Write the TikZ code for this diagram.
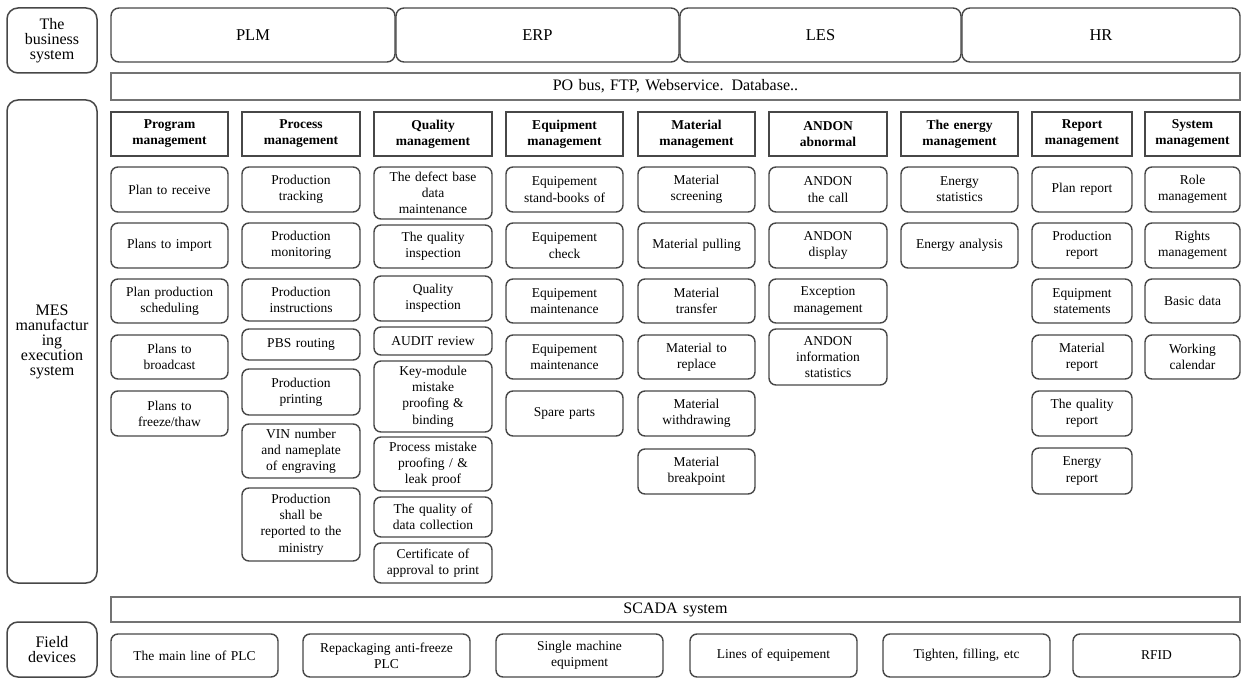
\documentclass[tikz,border=0pt]{standalone}
\usepackage{fontspec}
\setmainfont{Liberation Serif}
\begin{document}
\begin{tikzpicture}[x=1pt,y=-1pt,
  base/.style={align=center,inner sep=0pt,text=black},
  item/.style={base,draw=black!72,line width=1.4pt,rounded corners=7pt,fill=white,font=\fontsize{13.5}{16.2}\selectfont},
  head/.style={base,draw=black!72,line width=1.6pt,fill=white,font=\fontsize{13.5}{16}\selectfont\bfseries},
  top/.style={base,draw=black!72,line width=1.4pt,rounded corners=8pt,fill=white,font=\fontsize{16.5}{18}\selectfont},
  side/.style={base,draw=black!72,line width=1.5pt,rounded corners=11pt,fill=white,font=\fontsize{16}{15}\selectfont},
  bar/.style={base,draw=black!55,line width=2pt,fill=white,font=\fontsize{16}{18}\selectfont},
  field/.style={base,draw=black!72,line width=1.4pt,rounded corners=7pt,fill=white,font=\fontsize{13.5}{16}\selectfont}]
\newcommand\bx[7]{%
  \pgfmathsetmacro\bxw{#5-#3}\pgfmathsetmacro\bxh{#6-#4}%
  \pgfmathsetmacro\bxt{#5-#3-6}%
  \pgfmathsetmacro\bxx{(#3+#5)/2}\pgfmathsetmacro\bxy{(#4+#6)/2}%
  \node[#1,minimum width=\bxw pt,minimum height=\bxh pt,text width=\bxt pt] (#2) at (\bxx,\bxy) {#7};}
\useasboundingbox (0,0) rectangle (1242,679);
% business layer
\bx{side}{bus}{7}{8}{97}{73}{The\\business\\system}
\bx{top}{plm}{111}{8}{395}{62}{PLM}
\bx{top}{erp}{396}{8}{679}{62}{ERP}
\bx{top}{les}{680}{8}{961}{62}{LES}
\bx{top}{hr}{962}{8}{1240}{62}{HR}
\bx{bar}{po}{111}{73}{1240}{100}{PO bus, FTP, Webservice. Database..}
% MES
\bx{side}{mes}{7}{100}{97}{583}{MES\\manufactur\\ing\\execution\\system}
% headers
\bx{head}{h1}{111}{112}{228}{156}{Program\\management}
\bx{head}{h2}{242}{112}{360}{156}{Process\\management}
\bx{head}{h3}{374}{112}{492}{156}{Quality\\management}
\bx{head}{h4}{506}{112}{623}{156}{Equipment\\management}
\bx{head}{h5}{638}{112}{755}{156}{Material\\management}
\bx{head}{h6}{769}{112}{887}{156}{ANDON\\abnormal}
\bx{head}{h7}{901}{112}{1018}{156}{The energy\\management}
\bx{head}{h8}{1032}{112}{1132}{156}{Report\\management}
\bx{head}{h9}{1145}{112}{1240}{156}{System\\management}
% column 1
\bx{item}{a1}{111}{167}{228}{212}{Plan to receive}
\bx{item}{a2}{111}{223}{228}{268}{Plans to import}
\bx{item}{a3}{111}{279}{228}{323}{Plan production\\scheduling}
\bx{item}{a4}{111}{335}{228}{379}{Plans to\\broadcast}
\bx{item}{a5}{111}{391}{228}{436}{Plans to\\freeze/thaw}
% column 2
\bx{item}{b1}{242}{167}{360}{212}{Production\\tracking}
\bx{item}{b2}{242}{223}{360}{268}{Production\\monitoring}
\bx{item}{b3}{242}{279}{360}{321}{Production\\instructions}
\bx{item}{b4}{242}{329}{360}{360}{PBS routing}
\bx{item}{b5}{242}{369}{360}{415}{Production\\printing}
\bx{item}{b6}{242}{424}{360}{478}{VIN number\\and nameplate\\of engraving}
\bx{item}{b7}{242}{488}{360}{561}{Production\\shall be\\reported to the\\ministry}
% column 3
\bx{item}{c1}{374}{167}{492}{219}{The defect base\\data\\maintenance}
\bx{item}{c2}{374}{225}{492}{268}{The quality\\inspection}
\bx{item}{c3}{374}{276}{492}{321}{Quality\\inspection}
\bx{item}{c4}{374}{327}{492}{355}{AUDIT review}
\bx{item}{c5}{374}{361}{492}{432}{Key-module\\mistake\\proofing \&\\binding}
\bx{item}{c6}{374}{437}{492}{491}{Process mistake\\proofing / \&\\leak proof}
\bx{item}{c7}{374}{497}{492}{537}{The quality of\\data collection}
\bx{item}{c8}{374}{543}{492}{583}{Certificate of\\approval to print}
% column 4
\bx{item}{d1}{506}{167}{623}{212}{Equipement\\stand-books of}
\bx{item}{d2}{506}{223}{623}{268}{Equipement\\check}
\bx{item}{d3}{506}{279}{623}{323}{Equipement\\maintenance}
\bx{item}{d4}{506}{335}{623}{379}{Equipement\\maintenance}
\bx{item}{d5}{506}{391}{623}{436}{Spare parts}
% column 5
\bx{item}{e1}{638}{167}{755}{212}{Material\\screening}
\bx{item}{e2}{638}{223}{755}{268}{Material pulling}
\bx{item}{e3}{638}{279}{755}{323}{Material\\transfer}
\bx{item}{e4}{638}{335}{755}{379}{Material to\\replace}
\bx{item}{e5}{638}{391}{755}{436}{Material\\withdrawing}
\bx{item}{e6}{638}{449}{755}{494}{Material\\breakpoint}
% column 6
\bx{item}{f1}{769}{167}{887}{212}{ANDON\\the call}
\bx{item}{f2}{769}{223}{887}{268}{ANDON\\display}
\bx{item}{f3}{769}{279}{887}{323}{Exception\\management}
\bx{item}{f4}{769}{329}{887}{385}{ANDON\\information\\statistics}
% column 7
\bx{item}{g1}{901}{167}{1018}{212}{Energy\\statistics}
\bx{item}{g2}{901}{223}{1018}{268}{Energy analysis}
% column 8
\bx{item}{r1}{1032}{167}{1132}{212}{Plan report}
\bx{item}{r2}{1032}{223}{1132}{268}{Production\\report}
\bx{item}{r3}{1032}{279}{1132}{323}{Equipment\\statements}
\bx{item}{r4}{1032}{335}{1132}{379}{Material\\report}
\bx{item}{r5}{1032}{391}{1132}{436}{The quality\\report}
\bx{item}{r6}{1032}{448}{1132}{494}{Energy\\report}
% column 9
\bx{item}{s1}{1145}{167}{1240}{212}{Role\\management}
\bx{item}{s2}{1145}{223}{1240}{268}{Rights\\management}
\bx{item}{s3}{1145}{279}{1240}{323}{Basic data}
\bx{item}{s4}{1145}{335}{1240}{379}{Working\\calendar}
% SCADA and field devices
\bx{bar}{scada}{111}{597}{1240}{622}{SCADA system}
\bx{side}{fd}{7}{622}{97}{677}{Field\\devices}
\bx{field}{p1}{111}{634}{278}{677}{The main line of PLC}
\bx{field}{p2}{303}{634}{470}{677}{Repackaging anti-freeze\\PLC}
\bx{field}{p3}{496}{634}{663}{677}{Single machine\\equipment}
\bx{field}{p4}{690}{634}{857}{677}{Lines of equipement}
\bx{field}{p5}{883}{634}{1050}{677}{Tighten, filling, etc}
\bx{field}{p6}{1073}{634}{1240}{677}{RFID}
\end{tikzpicture}
\end{document}
